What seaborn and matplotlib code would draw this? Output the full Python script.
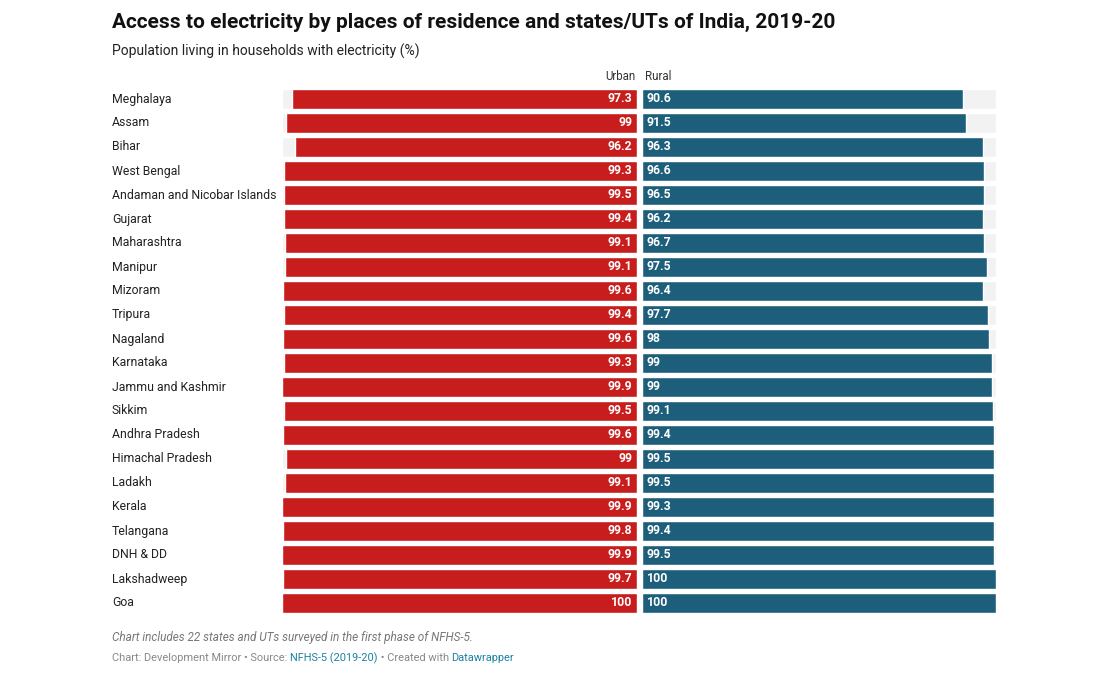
import matplotlib
matplotlib.use("Agg")
import matplotlib.pyplot as plt
import seaborn as sns
import pandas as pd

states = ["Meghalaya","Assam","Bihar","West Bengal","Andaman and Nicobar Islands","Gujarat",
          "Maharashtra","Manipur","Mizoram","Tripura","Nagaland","Karnataka","Jammu and Kashmir",
          "Sikkim","Andhra Pradesh","Himachal Pradesh","Ladakh","Kerala","Telangana","DNH & DD",
          "Lakshadweep","Goa"]
urban = [97.3,99,96.2,99.3,99.5,99.4,99.1,99.1,99.6,99.4,99.6,99.3,99.9,99.5,99.6,99,99.1,99.9,99.8,99.9,99.7,100]
rural = [90.6,91.5,96.3,96.6,96.5,96.2,96.7,97.5,96.4,97.7,98,99,99,99.1,99.4,99.5,99.5,99.3,99.4,99.5,100,100]

sns.set_theme(style="white")
plt.rcParams['font.family'] = ['Roboto', 'DejaVu Sans']
W, H = 1106, 686
fig = plt.figure(figsize=(W/100, H/100), dpi=100)

df = pd.DataFrame({"state": states, "urban": urban, "rural": rural})
top, bot = 87, 615
def mk(x0, x1):
    return fig.add_axes([x0/W, 1-bot/H, (x1-x0)/W, (bot-top)/H])
axu = mk(282, 637)
axr = mk(642, 996)

for ax, col, color, inv in [(axu, "urban", "#c71e1d", True), (axr, "rural", "#1d5f7a", False)]:
    sns.barplot(data=df, y="state", x=[100]*len(df), color="#f2f2f2", ax=ax, width=0.84, orient="h", saturation=1)
    sns.barplot(data=df, y="state", x=col, color=color, ax=ax, width=0.84, orient="h", saturation=1)
    ax.set_xlim(0, 100)
    if inv:
        ax.invert_xaxis()
    for s in ax.spines.values():
        s.set_visible(False)
    ax.set_xticks([]); ax.set_yticks([])
    ax.set_xlabel(""); ax.set_ylabel("")
    for i, v in enumerate(df[col]):
        txt = f"{v:g}"
        if inv:
            ax.text(1.3, i, txt, ha="right", va="center", color="white", fontsize=8.8, fontweight="bold")
        else:
            ax.text(1.3, i, txt, ha="left", va="center", color="white", fontsize=8.8, fontweight="bold")

for i, s in enumerate(states):
    fig.text(112/W, 1-(99+24*i)/H, s, ha="left", va="center", fontsize=8.8, color="#222222")

fig.text(636/W, 1-77/H, "Urban", ha="right", va="center", fontsize=8.3, color="#333333")
fig.text(645/W, 1-77/H, "Rural", ha="left", va="center", fontsize=8.3, color="#333333")
fig.text(112/W, 1-22/H, "Access to electricity by places of residence and states/UTs of India, 2019-20",
         ha="left", va="center", fontsize=15, fontweight="bold", color="#111111")
fig.text(112/W, 1-51/H, "Population living in households with electricity (%)", ha="left", va="center", fontsize=10, color="#222222")
fig.text(112/W, 1-638/H, "Chart includes 22 states and UTs surveyed in the first phase of NFHS-5.",
         ha="left", va="center", fontsize=8.5, style="italic", color="#777777")
t1 = fig.text(112/W, 1-658/H, "Chart: Development Mirror • Source: ", ha="left", va="center", fontsize=7.9, color="#888888")
fig.canvas.draw()
r = fig.canvas.get_renderer()
bb = t1.get_window_extent(r)
t2 = fig.text(bb.x1/W, 1-658/H, "NFHS-5 (2019-20)", ha="left", va="center", fontsize=7.9, color="#1d81a2")
bb = t2.get_window_extent(r)
t3 = fig.text(bb.x1/W, 1-658/H, " • Created with ", ha="left", va="center", fontsize=7.9, color="#888888")
bb = t3.get_window_extent(r)
fig.text(bb.x1/W, 1-658/H, "Datawrapper", ha="left", va="center", fontsize=7.9, color="#1d81a2")

fig.savefig("out.png", dpi=100, facecolor="white")
